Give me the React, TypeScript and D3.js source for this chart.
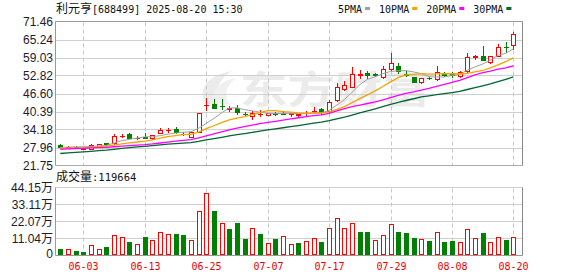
import React from 'react';
import * as d3 from 'd3';

const dates = ['05-28','05-29','05-30','06-03','06-04','06-05','06-06','06-09','06-10','06-11','06-12','06-13','06-16','06-17','06-18','06-19','06-20','06-23','06-24','06-25','06-26','06-27','06-30','07-01','07-02','07-03','07-04','07-07','07-08','07-09','07-10','07-11','07-14','07-15','07-16','07-17','07-18','07-21','07-22','07-23','07-24','07-25','07-28','07-29','07-30','07-31','08-01','08-04','08-05','08-06','08-07','08-08','08-11','08-12','08-13','08-14','08-15','08-18','08-19','08-20'];

const opens = [28.90,27.80,28.30,27.40,27.61,28.55,29.35,29.35,32.00,32.49,31.30,31.45,31.10,32.98,33.95,34.38,32.70,31.59,33.40,42.50,42.85,42.35,41.40,41.70,39.55,39.00,39.60,39.25,39.75,39.85,39.65,39.30,39.75,40.55,41.20,40.50,44.25,48.10,48.90,53.10,53.56,53.50,52.16,55.20,56.20,53.30,52.16,50.70,52.00,51.46,53.30,53.25,52.60,54.47,59.25,59.60,57.40,59.70,62.70,63.33];
const highs = [29.10,28.40,28.35,28.05,29.00,29.30,29.60,32.63,32.63,32.98,31.80,33.10,32.40,34.73,34.75,34.90,33.40,33.30,39.83,45.05,44.60,44.60,42.20,42.80,40.10,40.50,41.00,40.00,40.10,40.50,40.00,39.70,40.50,42.10,41.70,44.50,50.10,50.87,55.86,54.70,54.50,53.70,56.20,60.75,57.10,54.30,52.20,52.10,52.30,56.10,54.00,54.00,54.30,60.50,59.90,63.10,59.70,63.80,64.50,67.70];
const lows = [28.00,27.70,27.95,27.30,27.50,28.50,28.90,29.20,31.70,31.10,31.00,31.10,31.00,32.90,33.40,32.80,32.30,31.50,33.20,41.00,41.50,41.40,40.60,39.45,39.30,37.70,38.70,39.10,39.30,39.50,38.90,38.70,39.20,40.30,39.60,40.30,44.00,47.90,48.70,51.80,52.10,52.70,52.00,54.80,53.70,52.50,50.60,50.30,51.60,51.30,52.50,52.40,52.30,53.90,58.60,58.10,57.30,59.60,61.10,61.90];
const closes = [28.25,28.30,28.10,27.96,28.90,29.25,29.20,32.04,32.10,31.34,31.38,31.35,32.28,33.89,34.05,33.19,32.60,33.19,39.83,42.70,41.70,42.25,41.50,40.17,39.45,39.80,39.70,39.80,39.65,39.70,39.75,39.40,39.85,40.70,40.17,43.65,48.68,49.50,53.30,53.20,52.86,53.00,54.95,57.00,54.50,53.15,50.63,52.00,51.90,53.90,53.15,53.10,54.10,59.10,59.40,58.20,59.60,62.63,62.55,67.27];
// volume in 万
const volumes = [4.49,4.28,3.21,2.57,6.85,4.28,5.78,13.26,11.98,8.98,7.49,12.19,10.05,15.19,13.90,13.69,13.05,10.05,29.09,40.86,28.88,20.96,17.33,21.18,10.91,17.97,14.12,8.34,10.91,12.83,7.70,7.91,9.63,11.55,8.55,17.97,24.38,17.97,21.18,15.40,15.40,10.27,13.48,20.53,15.40,14.76,11.55,10.70,9.63,15.19,8.98,9.63,8.77,17.11,11.34,14.76,8.77,11.98,10.27,11.97];
// closes before the first visible day (used by the moving averages)
const prevCloses = [22.6,22.8,22.5,22.9,23.0,23.2,23.4,23.3,23.5,23.8,24.5,25.6,26.3,26.8,27.2,27.5,27.4,27.6,27.8,28.3,27.9,27.6,27.2,27.3,27.25,27.5,27.75,27.8,28.4];

const priceTicks = ['21.75','27.96','34.18','40.39','46.60','52.82','59.03','65.24','71.46'];
const volTicks = [0, 11.04, 22.07, 33.11, 44.15];
const volTickLabels = ['0','11.04万','22.07万','33.11万','44.15万'];
const dateTicks = ['06-03','06-13','06-25','07-07','07-17','07-29','08-08','08-20'];
const maPeriods = [5, 10, 20, 30];
const maNames = ['5PMA','10PMA','20PMA','30PMA'];
const maColors = ['#a0a0a0','#f5a300','#ff00ff','#006633'];
const stockName = '利元亨';
const stockInfo = '[688499] 2025-08-20 15:30';
const volLabel = '成交量';
const lastVolume = '119664';

const RED = '#ff0000';
const GREEN = '#008000';
const MONO = '"DejaVu Sans Mono", monospace';
const SANS = '"Liberation Sans", Arial, "Noto Sans CJK SC", sans-serif';
const CJK = '"Noto Sans CJK SC", sans-serif';

export default function App() {
  const W = 578, H = 276;
  const left = 55.5, right = 522.5;
  const pTop = 21.5, pBot = 165.5;
  const vTop = 187.5, vBot = 255.5;

  const x = d3.scalePoint<string>().domain(dates).range([60.3, 60.3 + 59 * 7.68]);
  const y = d3.scaleLinear().domain([+priceTicks[0], +priceTicks[priceTicks.length - 1]]).range([pBot, pTop]);
  const yv = d3.scaleLinear().domain([0, volTicks[volTicks.length - 1]]).range([vBot, vTop]);

  const all = [...prevCloses, ...closes];
  const off = prevCloses.length;
  const mas = maPeriods.map(n => closes.map((_, i) => d3.mean(all.slice(i + off - n + 1, i + off + 1)) as number));
  const line = d3.line<number>().x((_, i) => x(dates[i]) as number).y(d => y(d));

  // legend layout
  let lx = 338;
  const legend = maNames.map((name, k) => {
    const tx = lx;
    const tw = name.length * 6.02;
    const rx = tx + tw + 3;
    lx = rx + 5 + 9;
    return { name, tx, rx, color: maColors[k] };
  });

  return (
    <svg width={W} height={H} style={{ position: 'absolute', left: 0, top: 0, background: '#fff' }}>
      <rect x={0} y={0} width={W} height={H} fill="#fff" />
      {/* watermark */}
      <g fill="#ebebeb">
        <path d="M206 104 C198 92 204 76 232 71 C218 80 213 92 221 104 Z" />
        <path d="M214 104 C210 94 216 82 236 78 C226 86 224 95 229 104 Z" fill="#f0f0f0" />
        <text x={240} y={103} fontSize={38} fontWeight="bold" fontFamily={CJK} textLength={190} lengthAdjust="spacingAndGlyphs">东方财富</text>
      </g>

      {/* horizontal gridlines */}
      {priceTicks.slice(1, -1).map(t => (
        <line key={t} x1={left} x2={right} y1={Math.round(y(+t)) + 0.5} y2={Math.round(y(+t)) + 0.5} stroke="#cfcfcf" />
      ))}
      {volTicks.slice(1, -1).map(t => (
        <line key={t} x1={left} x2={right} y1={Math.round(yv(t) - 0.5) + 0.5} y2={Math.round(yv(t) - 0.5) + 0.5} stroke="#cfcfcf" />
      ))}
      {/* vertical dashed gridlines */}
      {dateTicks.map(d => {
        const gx = Math.round(x(d) as number) + 0.5;
        return (
          <g key={d} stroke="#c8c8c8" strokeDasharray="4,3">
            <line x1={gx} x2={gx} y1={pTop + 1} y2={pBot} />
            <line x1={gx} x2={gx} y1={vTop + 1} y2={vBot} />
          </g>
        );
      })}

      {/* frames */}
      <g fill="none">
        <line x1={left} x2={right} y1={pTop} y2={pTop} stroke="#999" />
        <line x1={left} x2={right} y1={pBot} y2={pBot} stroke="#aaa" />
        <line x1={left} x2={left} y1={pTop} y2={pBot} stroke="#999" />
        <line x1={right} x2={right} y1={pTop} y2={pBot} stroke="#888" />
        <line x1={left} x2={right} y1={vTop} y2={vTop} stroke="#cfcfcf" />
        <line x1={left} x2={right} y1={vBot} y2={vBot} stroke="#999" />
        <line x1={left} x2={left} y1={vTop} y2={vBot} stroke="#999" />
        <line x1={right} x2={right} y1={vTop} y2={vBot} stroke="#888" />
      </g>

      {/* candles */}
      {dates.map((d, i) => {
        const cx = Math.round(x(d) as number);
        const o = opens[i], c = closes[i];
        const up = c >= o;
        const col = up ? RED : GREEN;
        const top = Math.round(y(Math.max(o, c)));
        const bot = Math.round(y(Math.min(o, c)));
        const wx = cx + 0.5;
        const hy = Math.round(y(highs[i]));
        const ly = Math.round(y(lows[i]));
        let body;
        if (bot - top < 1) {
          body = <line x1={cx - 2} x2={cx + 3} y1={top + 0.5} y2={top + 0.5} stroke={col} />;
        } else if (up) {
          body = <rect x={cx - 1.5} y={top + 0.5} width={4} height={bot - top} fill="#fff" stroke={col} />;
        } else {
          body = <rect x={cx - 2} y={top} width={5} height={bot - top + 1} fill={col} />;
        }
        return (
          <g key={d}>
            <line x1={wx} x2={wx} y1={hy} y2={ly + 1} stroke={col} />
            {body}
          </g>
        );
      })}

      {/* moving averages */}
      {mas.map((m, k) => (
        <path key={k} d={line(m) as string} fill="none" stroke={maColors[k]} strokeWidth={k === 0 ? 1 : 1.3} />
      ))}

      {/* volume bars */}
      {dates.map((d, i) => {
        const cx = Math.round(x(d) as number);
        const prev = i === 0 ? prevCloses[prevCloses.length - 1] : closes[i - 1];
        const up = closes[i] >= prev;
        const vt = Math.round(yv(volumes[i]));
        return up ? (
          <rect key={d} x={cx - 1.5} y={vt + 0.5} width={4} height={254 - vt} fill="#fff" stroke={RED} />
        ) : (
          <rect key={d} x={cx - 2} y={vt} width={5} height={255 - vt} fill={GREEN} />
        );
      })}

      {/* price axis labels */}
      {priceTicks.map(t => (
        <text key={t} x={53} y={y(+t)} dy="0.35em" textAnchor="end" fontSize={12} fontFamily={SANS} fill="#1c1c2c">{t}</text>
      ))}
      {/* volume axis labels */}
      {volTicks.map((t, k) => (
        <text key={k} x={53} y={yv(t) - (k === 0 ? 1.5 : 0)} dy="0.35em" textAnchor="end" fontSize={12} fontFamily={SANS} fill="#1c1c2c">{volTickLabels[k]}</text>
      ))}
      {/* date labels */}
      {dateTicks.map(d => (
        <text key={d} x={Math.round(x(d) as number) + 0.5} y={270} textAnchor="middle" fontSize={10} fontFamily={MONO} fill="#ee0000">{d}</text>
      ))}

      {/* title */}
      <text x={56} y={13} fontSize={12} fontFamily={CJK} fill="#111">
        {stockName}
        <tspan fontFamily={MONO} fontSize={10}>{stockInfo}</tspan>
      </text>
      {/* legend */}
      {legend.map(l => (
        <g key={l.name}>
          <text x={l.tx} y={12.5} fontSize={10} fontFamily={MONO} fill="#111">{l.name}</text>
          <rect x={l.rx} y={7} width={5} height={3} fill={l.color} />
        </g>
      ))}
      {/* volume title */}
      <text x={56} y={181} fontSize={12} fontFamily={CJK} fill="#111">
        {volLabel}
        <tspan fontFamily={MONO} fontSize={10.5}>:{lastVolume}</tspan>
      </text>
    </svg>
  );
}
